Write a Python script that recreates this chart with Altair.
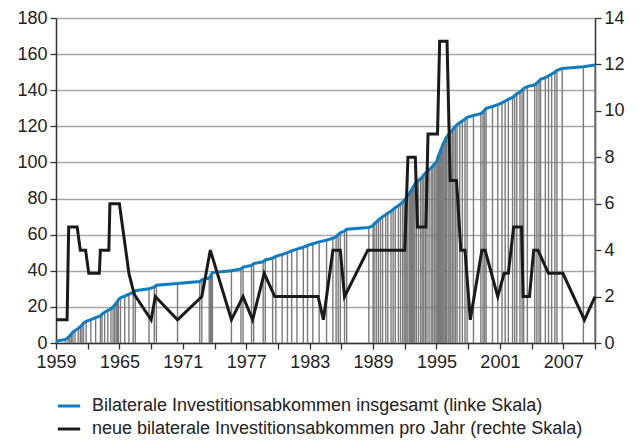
import altair as alt
import pandas as pd

# ---------------- data ----------------
x_tick_values = list(range(1959, 2011, 3))
left_ticks = list(range(0, 181, 20))
right_ticks = list(range(0, 15, 2))

# dates (decimal years) of the individual agreements (grey drop lines)
agreement_dates = [
    1959.0, 1959.9,
    1960.15, 1960.3, 1960.45, 1960.6, 1960.8,
    1961.1, 1961.3, 1961.45, 1961.6, 1961.85,
    1962.3, 1962.75,
    1963.2, 1963.35, 1963.6, 1963.9,
    1964.2, 1964.4, 1964.55, 1964.7, 1964.8, 1964.9,
    1965.1, 1965.5, 1965.9,
    1966.3, 1966.5,
    1967.8,
    1968.3, 1968.5,
    1970.5,
    1972.6, 1972.8,
    1973.5, 1973.6, 1973.7, 1973.8,
    1975.6,
    1976.5, 1976.7,
    1977.5, 1977.7,
    1978.6, 1978.8,
    1979.5, 1979.8,
    1980.4, 1980.9,
    1981.3, 1981.8,
    1982.4, 1982.8,
    1983.3, 1983.9,
    1984.6,
    1985.2, 1985.5, 1985.7, 1985.9,
    1986.3, 1986.5,
    1988.6,
    1989.0, 1989.1, 1989.3, 1989.5, 1989.7, 1989.9,
    1990.2, 1990.4, 1990.7, 1990.9,
    1991.1, 1991.4, 1991.6, 1991.8, 1991.95,
    1992.1, 1992.2, 1992.3, 1992.45, 1992.55, 1992.65, 1992.75, 1992.85, 1992.95,
    1993.1, 1993.3, 1993.5, 1993.65, 1993.8, 1993.95,
    1994.1, 1994.3, 1994.5, 1994.65, 1994.8, 1994.95,
    1995.05, 1995.1, 1995.15, 1995.2, 1995.3, 1995.35, 1995.4, 1995.5,
    1995.55, 1995.6, 1995.7, 1995.8, 1995.85, 1995.95,
    1996.1, 1996.2, 1996.35, 1996.5, 1996.65, 1996.8, 1996.95,
    1997.2, 1997.45, 1997.7, 1997.9,
    1998.5,
    1999.2, 1999.4, 1999.55, 1999.7,
    2000.3, 2000.8,
    2001.2, 2001.5, 2001.8,
    2002.2, 2002.4, 2002.6, 2002.9,
    2003.1, 2003.25, 2003.6,
    2004.3, 2004.5, 2004.7, 2004.85,
    2005.3, 2005.6, 2005.9,
    2006.2, 2006.4, 2006.9,
    2008.9,
    2010.0,
]

# new agreements per year (right scale), vertices
new_x = [1959.0, 1960.05, 1960.2, 1961.0, 1961.3, 1961.8, 1962.1, 1963.1, 1963.2, 1964.0,
         1964.1, 1965.0, 1965.9, 1966.4, 1968.0, 1968.4, 1970.5, 1972.8, 1973.6, 1975.6,
         1976.7, 1977.6, 1978.7, 1979.7, 1983.8, 1984.3, 1985.2, 1985.9, 1986.3, 1988.5,
         1992.0, 1992.3, 1993.0, 1993.2, 1994.0, 1994.2, 1995.1, 1995.3, 1996.0, 1996.3,
         1996.9, 1997.3, 1997.7, 1998.2, 1999.3, 1999.6, 2000.8, 2001.4, 2001.8, 2002.3,
         2003.05, 2003.2, 2003.8, 2004.2, 2004.6, 2005.6, 2006.96, 2009.0, 2010.0]
new_counts = [1, 1, 5, 5, 4, 4, 3, 3, 4, 4,
              6, 6, 3, 2.1, 1, 2, 1, 2, 4, 1,
              2, 1, 3, 2, 2, 1, 4, 4, 2, 4,
              4, 8, 8, 5, 5, 9, 9, 13, 13, 7,
              7, 4, 4, 1, 4, 4, 2, 3, 3, 5,
              5, 2, 2, 4, 4, 3, 3, 1, 2]

LBL_TOTAL = "Bilaterale Investitionsabkommen insgesamt (linke Skala)"
LBL_NEW = "neue bilaterale Investitionsabkommen pro Jahr (rechte Skala)"
BLUE = "#0f7cc2"
BLACK = "#1a1a1a"
FONT = "Liberation Sans"
TICK_FS = 18

common_axis = dict(
    title=None,
    tickSize=6,
    labelFontSize=TICK_FS,
    labelFont=FONT,
    labelColor="#222222",
    domainColor="#333333",
    domainWidth=1.5,
    tickColor="#333333",
    tickWidth=1.3,
)

# ---------------- encodings ----------------
x_enc = alt.X(
    "date:Q",
    scale=alt.Scale(domain=[1959, 2010], nice=False, zero=False),
    axis=alt.Axis(
        values=x_tick_values,
        format="d",
        labelExpr="(datum.value - 1959) % 6 == 0 ? datum.label : ''",
        grid=False,
        labelPadding=4,
        labelFlush=False,
        labelOverlap=False,
        **common_axis,
    ),
)

color_enc = alt.Color(
    "series:N",
    scale=alt.Scale(domain=[LBL_TOTAL, LBL_NEW], range=[BLUE, BLACK]),
    legend=alt.Legend(
        title=None,
        orient="none",
        legendX=0,
        legendY=375,
        direction="vertical",
        symbolType="stroke",
        symbolStrokeWidth=3,
        symbolSize=500,
        labelFontSize=18,
        labelFont=FONT,
        labelColor="#222222",
        labelLimit=1000,
        rowPadding=1,
        labelOffset=10,
        padding=0,
    ),
)

df_dates = pd.DataFrame({"date": agreement_dates, "series": LBL_TOTAL})
base_left = alt.Chart(df_dates).transform_window(
    cum="count()", sort=[alt.SortField("date")]
).transform_calculate(zero="0")

y_left = alt.Y(
    "cum:Q",
    scale=alt.Scale(domain=[0, 180], nice=False),
    axis=alt.Axis(
        values=left_ticks,
        grid=True,
        gridColor="#a6a6a6",
        gridWidth=1.4,
        labelPadding=3,
        **common_axis,
    ),
)

rules = base_left.mark_rule(color="#7a7a7a", strokeWidth=1.4).encode(
    x=x_enc, y=y_left, y2="zero:Q"
)
blue_line = base_left.mark_line(strokeWidth=3).encode(
    x=x_enc, y=y_left, color=color_enc
)
left = alt.layer(rules, blue_line)

df_new = pd.DataFrame({"date": new_x, "count": new_counts, "series": LBL_NEW})
black_line = alt.Chart(df_new).mark_line(strokeWidth=3).encode(
    x=x_enc,
    y=alt.Y(
        "count:Q",
        scale=alt.Scale(domain=[0, 14], nice=False),
        axis=alt.Axis(
            orient="right",
            values=right_ticks,
            grid=False,
            labelPadding=3,
            **common_axis,
        ),
    ),
    color=color_enc,
)

chart = (
    alt.layer(left, black_line)
    .resolve_scale(y="independent")
    .properties(
        width=539,
        height=325,
        autosize=alt.AutoSizeParams(type="none"),
        padding={"left": 48, "top": 10, "right": 37, "bottom": 97},
        background="white",
    )
    .configure_view(stroke=None)
)

chart.save("out.html", embed_options={"renderer": "svg", "actions": False})
